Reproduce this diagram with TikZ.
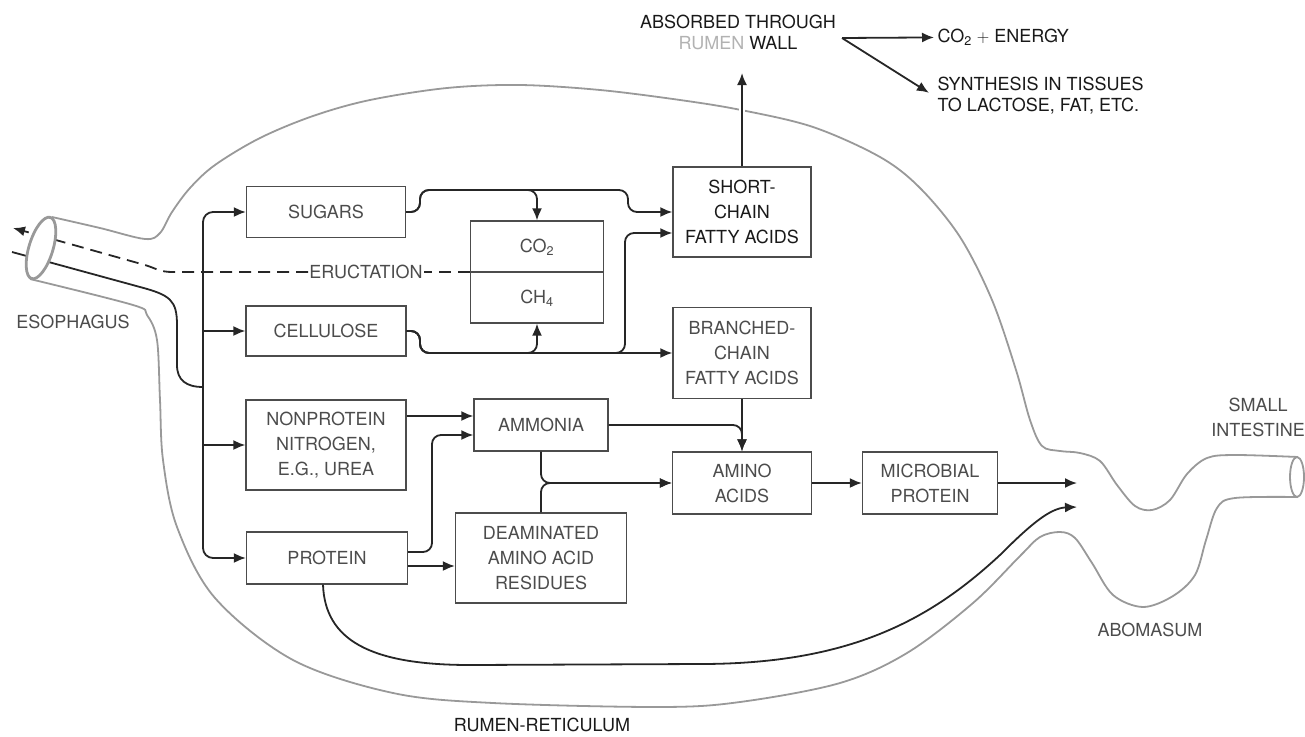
\documentclass[tikz,border=0pt]{standalone}
\usepackage{fontspec}
\setmainfont{TeX Gyre Heros}
\usetikzlibrary{arrows.meta}

\begin{document}
\begin{tikzpicture}[x=1pt,y=-1pt]
	\tikzset{box/.style = {draw=black!70, line width=1.3pt, inner sep=0pt, align=center, text=black!70, font=\fontsize{18}{25}\selectfont}}
	\tikzset{tag/.style = {align=center, text=black!70, font=\fontsize{18}{25}\selectfont}}
	\tikzset{toptag/.style = {align=center, text=black!90, font=\fontsize{18}{21}\selectfont}}
	\tikzset{flow/.style = {->, > = {Latex[length=12pt, width=10pt]}, line width=1.8pt, draw=black!85}}
	\tikzset{belch/.style = {flow, dash pattern=on 12pt off 7pt}}
	\tikzset{wall/.style = {line width=1.8pt, draw=black!40}}
	\useasboundingbox (0,0) rectangle (1305,736);

	% Rumen wall with esophagus, abomasum and small intestine
	\draw[wall] plot[smooth, tension=.55] coordinates {(52,217) (100,228) (145,239) (160,233) (172,212)
		(190,188) (215,165) (260,138) (313,116) (370,100) (447,88) (520,85) (600,90) (680,100) (741,110)
		(813,127) (880,157) (920,188) (960,237) (992,300) (1016,370) (1030,420) (1042,446) (1060,451)
		(1080,453) (1100,461) (1117,485) (1135,506) (1152,510) (1170,500) (1187,474) (1207,458) (1235,455) (1298,457)};
	\draw[wall] plot[smooth, tension=.55] coordinates {(1298,497) (1235,498) (1217,508) (1206,540) (1195,575)
		(1173,596) (1143,607) (1113,595) (1092,563) (1075,538) (1060,532) (1040,537) (1020,556) (973,603)
		(907,653) (840,683) (740,702) (660,707) (493,703) (393,693) (293,660) (215,598) (177,527) (163,460)
		(160,400) (157,340) (147,315) (133,305) (30,279)};

	% Boxes
	\node[box, minimum width=159, minimum height=51] (sugars) at (326,212) {SUGARS};
	\node[box, minimum width=160, minimum height=50] (cellulose) at (326,331) {CELLULOSE};
	\node[box, minimum width=160, minimum height=90] (npn) at (326,445) {NONPROTEIN\\NITROGEN,\\E.G., UREA};
	\node[box, minimum width=161, minimum height=52] (protein) at (327,558) {PROTEIN};
	\node[box, minimum width=133, minimum height=102] (gas) at (537,272) {};
	\draw[draw=black!70, line width=1.3pt] (gas.west) -- (gas.east);
	\node[tag] (co2) at (537,247) {CO\textsubscript{2}};
	\node[tag] (ch4) at (537,298) {CH\textsubscript{4}};
	\node[box, minimum width=138, minimum height=90, text=black!90] (scfa) at (742,212) {SHORT-\\CHAIN\\FATTY ACIDS};
	\node[box, minimum width=138, minimum height=91] (bcfa) at (742,353) {BRANCHED-\\CHAIN\\FATTY ACIDS};
	\node[box, minimum width=134, minimum height=52] (ammonia) at (541,425) {AMMONIA};
	\node[box, minimum width=171, minimum height=90] (deam) at (541,558) {DEAMINATED\\AMINO ACID\\RESIDUES};
	\node[box, minimum width=139, minimum height=62] (amino) at (742,483) {AMINO\\ACIDS};
	\node[box, minimum width=135, minimum height=62] (micro) at (930,483) {MICROBIAL\\PROTEIN};

	% Feed line and eructation in the esophagus
	\coordinate (feed) at (12,252);
	\coordinate (trunk) at (203,387);
	\coordinate (mouth) at (13,228);
	\draw[flow, -] (feed) -- (140,287) .. controls (170,295) and (177,300) .. (177,325) -- (177,365) .. controls (177,380) and (186,387) .. (trunk);
	\node[tag, fill=white, inner sep=1pt] (eruct) at (366,272) {ERUCTATION};
	\draw[belch, -] (gas.west) -- (eruct.east);
	\draw[belch] (eruct.west) -- (172,272) .. controls (160,272) and (155,268) .. (145,265) -- (mouth);
	\draw[wall, line width=2.8pt, fill=white, rotate around={-17:(41,248)}] (41,248) ellipse (12 and 32);
	\draw[wall, fill=white] (1297,477) ellipse (7 and 20);

	% Distribution of the feed
	\draw[flow, rounded corners=10] (trunk) |- (sugars);
	\draw[flow, rounded corners=10] (trunk) |- (protein);
	\draw[flow] (cellulose -| trunk) -- (cellulose);
	\draw[flow] (npn -| trunk) -- (npn);

	% Fermentation
	\draw[flow, rounded corners=9] (sugars.east) -- (420,212) -- (420,190) -- (628,190) -- (628,212) -- (scfa.west);
	\draw[flow, rounded corners=9] (sugars.east) -- (420,212) -- (420,190) -| (gas.north);
	\draw[flow, rounded corners=9] (cellulose.east) -- (420,331) -- (420,353) -- (bcfa.west);
	\draw[flow, rounded corners=9] (cellulose.east) -- (420,331) -- (420,353) -| (gas.south);
	\draw[flow, rounded corners=9] (cellulose.east) -- (420,331) -- (420,353) -- (625,353) -- (625,233) -- ([yshift=-21pt]scfa.west);

	% Nitrogen
	\draw[flow] ([yshift=9pt]ammonia.west -| npn.east) -- ([yshift=9pt]ammonia.west);
	\draw[flow, rounded corners=9] ([yshift=6pt]protein.east) -- (432,552) -- (432,435) -- ([yshift=-10pt]ammonia.west);
	\draw[flow] ([yshift=-8pt]protein.east) -- ([yshift=-8pt]protein.east -| deam.west);
	\draw[flow, rounded corners=9] (ammonia.east) -| (amino.north);
	\draw[flow] (bcfa) -- (amino);
	\draw[flow, rounded corners=9] (ammonia.south) |- (amino.west);
	\draw[flow, rounded corners=9] (deam.north) |- (amino.west);
	\draw[flow] (amino) -- (micro);

	% On to the abomasum
	\coordinate (abo) at (1077,483);
	\coordinate (bypass) at (1077,507);
	\draw[flow] (micro) -- (abo);
	\draw[flow] ([xshift=-4pt]protein.south) .. controls (325,640) and (370,665) .. (470,665) -- (700,664)
		.. controls (850,664) and (930,620) .. (1000,555) .. controls (1030,525) and (1050,508) .. (bypass);

	% Absorption
	\node[toptag] (absorbed) at (738,32) {ABSORBED THROUGH\\{\color{black!30}RUMEN} WALL};
	\coordinate (uptake) at (742,73);
	\coordinate (fork) at (842,38);
	\draw[flow, preaction={draw=white, line width=6pt, -, shorten <=20pt}] (scfa) -- (uptake);
	\node[toptag, anchor=west] (energy) at (934,37) {CO\textsubscript{2} $+$ ENERGY};
	\node[toptag, anchor=west, align=left] (synth) at (934,96) {SYNTHESIS IN TISSUES\\TO LACTOSE, FAT, ETC.};
	\draw[flow] (fork) -- (energy);
	\draw[flow, shorten >=6pt] (fork) -- (synth.west);

	% Names of the parts
	\node[tag] (esophagus) at (73,322) {ESOPHAGUS};
	\node[tag] (intestine) at (1258,417) {SMALL\\INTESTINE};
	\node[tag] (abomasum) at (1150,630) {ABOMASUM};
	\node[tag, text=black!90] (rumen) at (542,725) {RUMEN-RETICULUM};
\end{tikzpicture}
\end{document}
